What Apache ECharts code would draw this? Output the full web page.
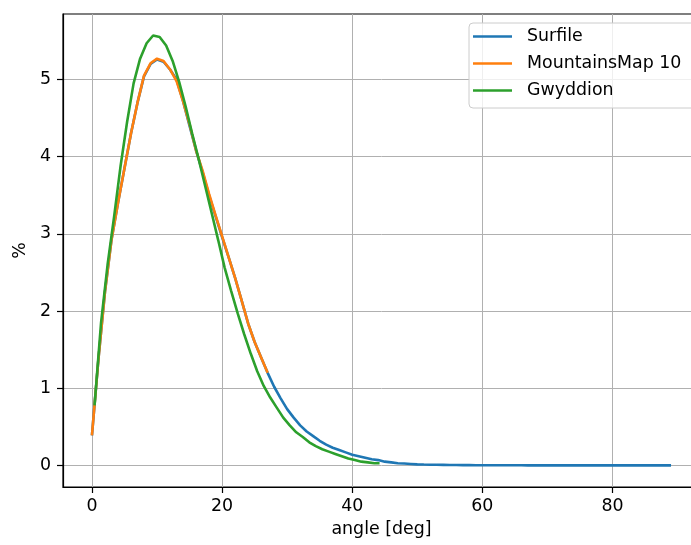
<!DOCTYPE html>
<html>
<head>
<meta charset="utf-8">
<script src="https://cdn.jsdelivr.net/npm/echarts@6/dist/echarts.min.js"></script>
<style>html,body{margin:0;padding:0;background:#fff;overflow:hidden;width:691px;height:545px;}#c{width:710px;height:545px;}</style>
</head>
<body>
<div id="c"></div>
<script>
const seriesNames = ['Surfile', 'MountainsMap 10', 'Gwyddion'];
const xTicks = [0, 20, 40, 60, 80];
const yTicks = [0, 1, 2, 3, 4, 5];

const surfileX = [0,1,2,3,4,5,6,7,8,9,10,11,12,13,14,15,16,17,18,19,20,21,22,23,24,25,26,27,28,29,30,31,32,33,34,35,36,37,38,39,40,41,42,43,44,45,46,47,48,49,50,51,52,53,54,55,56,57,58,59,60,61,62,63,64,65,66,67,68,69,70,71,72,73,74,75,76,77,78,79,80,81,82,83,84,85,86,87,88,89];
const surfileY = [0.39,1.38,2.25,2.92,3.4,3.85,4.3,4.7,5.04,5.2,5.26,5.23,5.13,5.0,4.72,4.4,4.08,3.8,3.5,3.23,2.96,2.7,2.43,2.14,1.84,1.6,1.4,1.2,1.02,0.87,0.73,0.62,0.52,0.44,0.38,0.32,0.27,0.23,0.2,0.17,0.14,0.12,0.1,0.08,0.07,0.05,0.04,0.03,0.025,0.02,0.015,0.012,0.01,0.009,0.008,0.007,0.006,0.005,0.005,0.004,0.004,0.004,0.003,0.003,0.003,0.003,0.003,0.002,0.002,0.002,0.002,0.002,0.002,0.002,0.002,0.002,0.002,0.002,0.002,0.002,0.002,0.002,0.002,0.002,0.002,0.002,0.002,0.002,0.002,0.002];

const mountainsX = [0,1,2,3,4,5,6,7,8,9,10,11,12,13,14,15,16,17,18,19,20,21,22,23,24,25,26,27];
const mountainsY = [0.39,1.38,2.25,2.92,3.4,3.85,4.3,4.7,5.05,5.21,5.27,5.24,5.13,4.98,4.72,4.42,4.08,3.82,3.52,3.24,2.97,2.7,2.43,2.14,1.84,1.6,1.4,1.2];

const gwyddionX = [0.4,1.4,2.4,3.4,4.4,5.4,6.4,7.4,8.4,9.4,10.4,11.4,12.4,13.4,14.4,15.4,16.4,17.4,18.4,19.4,20.4,21.4,22.4,23.4,24.4,25.4,26.4,27.4,28.4,29.4,30.4,31.4,32.4,33.4,34.4,35.4,36.4,37.4,38.4,39.4,40.4,41.4,42.4,43.4,44.2];
const gwyddionY = [0.78,1.85,2.6,3.22,3.88,4.45,4.95,5.27,5.47,5.57,5.55,5.44,5.24,4.97,4.65,4.3,3.97,3.62,3.27,2.92,2.56,2.26,1.97,1.7,1.45,1.22,1.03,0.88,0.75,0.62,0.52,0.43,0.37,0.3,0.25,0.21,0.18,0.15,0.12,0.09,0.07,0.05,0.04,0.03,0.03];

function pairs(xs, ys) { return xs.map((x, i) => [x, ys[i]]); }

const colors = ['#1f77b4', '#ff7f0e', '#2ca02c'];
const font = 'DejaVu Sans';
const fs = 17.4;

const chart = echarts.init(document.getElementById('c'), null, {renderer: 'canvas'});
chart.setOption({
  animation: false,
  backgroundColor: '#fff',
  color: colors,
  grid: {left: 63, right: 10, top: 14, bottom: 58, show: true, borderColor: '#000', borderWidth: 1.2, backgroundColor: 'transparent', containLabel: false},
  legend: {
    orient: 'vertical', left: 469, top: 23,
    padding: [5, 24, 9, 4],
    icon: 'rect',
    itemWidth: 39, itemHeight: 2.5, itemGap: 10,
    borderColor: '#cccccc', borderWidth: 1, borderRadius: 4,
    backgroundColor: 'rgba(255,255,255,0.8)',
    textStyle: {fontFamily: font, fontSize: fs, lineHeight: 17, color: '#000', padding: [0, 0, 0, 10]},
    data: seriesNames
  },
  xAxis: {
    type: 'value', min: -4.45, max: 93.45,
    name: 'angle [deg]', nameLocation: 'middle', nameGap: 34,
    nameTextStyle: {fontFamily: font, fontSize: fs, color: '#000'},
    axisLine: {show: true, onZero: false, lineStyle: {color: '#000', width: 1.2}},
    axisTick: {show: true, length: 6, lineStyle: {color: '#000', width: 1.2}, customValues: xTicks},
    axisLabel: {fontFamily: font, fontSize: fs, color: '#000', margin: 11, customValues: xTicks},
    splitLine: {show: true, lineStyle: {color: '#b0b0b0', width: 1}}
  },
  yAxis: {
    type: 'value', min: -0.2785, max: 5.8485,
    name: '%', nameLocation: 'middle', nameGap: 31,
    nameTextStyle: {fontFamily: font, fontSize: fs, color: '#000'},
    axisLine: {show: true, onZero: false, lineStyle: {color: '#000', width: 1.2}},
    axisTick: {show: true, length: 6, lineStyle: {color: '#000', width: 1.2}, customValues: yTicks},
    axisLabel: {fontFamily: font, fontSize: fs, color: '#000', margin: 12, customValues: yTicks},
    splitLine: {show: true, lineStyle: {color: '#b0b0b0', width: 1}}
  },
  series: [
    {name: seriesNames[0], type: 'line', data: pairs(surfileX, surfileY), symbol: 'none', lineStyle: {width: 2.6, color: colors[0]}, itemStyle: {color: colors[0]}, z: 2},
    {name: seriesNames[1], type: 'line', data: pairs(mountainsX, mountainsY), symbol: 'none', lineStyle: {width: 2.6, color: colors[1]}, itemStyle: {color: colors[1]}, z: 3},
    {name: seriesNames[2], type: 'line', data: pairs(gwyddionX, gwyddionY), symbol: 'none', lineStyle: {width: 2.6, color: colors[2]}, itemStyle: {color: colors[2]}, z: 4}
  ]
});
</script>
</body>
</html>
